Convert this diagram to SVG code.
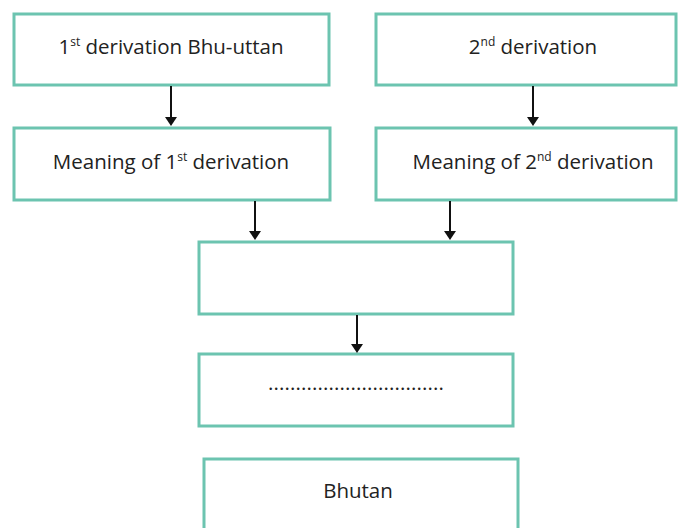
<svg xmlns="http://www.w3.org/2000/svg" width="679" height="528" viewBox="0 0 679 528">
<style>
.box{fill:#fff;stroke:#6cc4b0;stroke-width:3}
.t{font-family:"Open Sans","Liberation Sans",sans-serif;font-size:20.5px;fill:#222;text-anchor:middle}
.sup{font-size:12px}
.c{stroke:#111;stroke-width:2;fill:none}
.h{fill:#111}
</style>
<rect width="679" height="528" fill="#fff"/>
<g id="n1"><rect class="box" x="14" y="14" width="315" height="71"/><text class="t" x="171" y="54">1<tspan class="sup" dy="-8">st</tspan><tspan dy="8"> derivation Bhu-uttan</tspan></text></g>
<g id="n2"><rect class="box" x="376" y="14" width="300" height="71"/><text class="t" x="533" y="54">2<tspan class="sup" dy="-8">nd</tspan><tspan dy="8"> derivation</tspan></text></g>
<g id="n3"><rect class="box" x="14" y="128" width="316" height="72"/><text class="t" x="171" y="169">Meaning of 1<tspan class="sup" dy="-8">st</tspan><tspan dy="8"> derivation</tspan></text></g>
<g id="n4"><rect class="box" x="376" y="128" width="300" height="72"/><text class="t" x="533" y="169">Meaning of 2<tspan class="sup" dy="-8">nd</tspan><tspan dy="8"> derivation</tspan></text></g>
<g id="n5"><rect class="box" x="199" y="242" width="314" height="72"/></g>
<g id="n6"><rect class="box" x="199" y="354" width="314" height="72"/><text class="t" x="356" y="390" textLength="176" lengthAdjust="spacing">................................</text></g>
<g id="n7"><rect class="box" x="204" y="459" width="314" height="80"/><text class="t" x="358" y="498">Bhutan</text></g>
<g id="connectors">
<line class="c" x1="171" y1="86" x2="171" y2="118"/><path class="h" d="M165,117 L177,117 L171,126 Z"/>
<line class="c" x1="533" y1="86" x2="533" y2="118"/><path class="h" d="M527,117 L539,117 L533,126 Z"/>
<line class="c" x1="255" y1="201" x2="255" y2="232"/><path class="h" d="M249,231 L261,231 L255,240 Z"/>
<line class="c" x1="450" y1="201" x2="450" y2="232"/><path class="h" d="M444,231 L456,231 L450,240 Z"/>
<line class="c" x1="357" y1="315" x2="357" y2="345"/><path class="h" d="M351,344 L363,344 L357,353 Z"/>
</g>
</svg>
